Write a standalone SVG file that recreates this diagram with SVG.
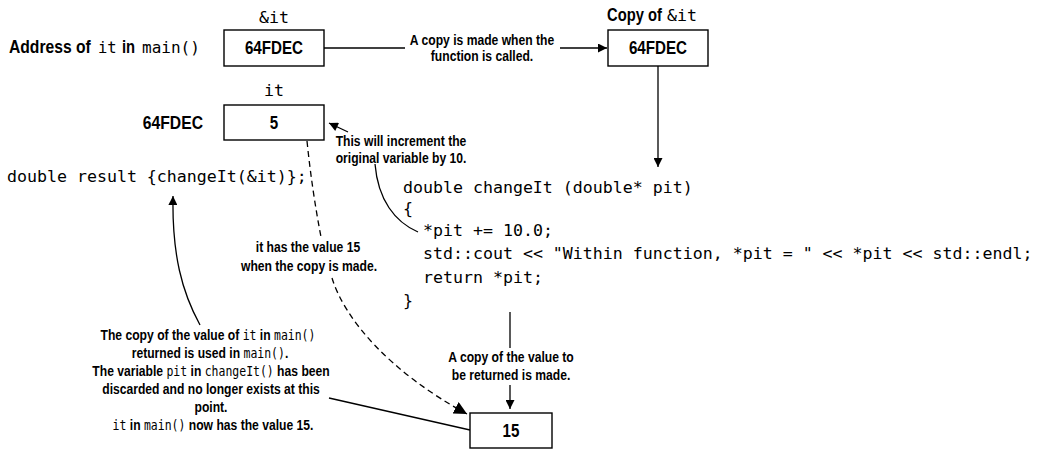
<svg xmlns="http://www.w3.org/2000/svg" width="1040" height="449" viewBox="0 0 1040 449">
<style>
.bg{fill:#fff}
.box{fill:#fff;stroke:#000;stroke-width:1.4}
.sn{font-family:"Liberation Sans",Arial,sans-serif;font-weight:bold;fill:#000}
.bt{font-size:18.5px;text-anchor:middle}
.bte{font-size:18.5px;text-anchor:end}
.lb{font-size:18px}
.an{font-size:14.8px;text-anchor:middle}
.mo{font-family:"DejaVu Sans Mono","Liberation Mono",monospace;font-weight:normal;font-size:14px}
.code{font-family:"DejaVu Sans Mono","Liberation Mono",monospace;font-size:16.6px;fill:#000}
.ln{fill:none;stroke:#000;stroke-width:1.3}
.dash{fill:none;stroke:#000;stroke-width:1.3;stroke-dasharray:6 4}
</style>
<defs>
<marker id="ah" viewBox="0 0 10 10" refX="10" refY="5" markerWidth="11" markerHeight="9" orient="auto" markerUnits="userSpaceOnUse">
<path d="M0,0 L10,5 L0,10 Z" fill="#000"/>
</marker>
<marker id="ahb" viewBox="0 0 10 10" refX="10" refY="5" markerWidth="13" markerHeight="13" orient="auto" markerUnits="userSpaceOnUse">
<path d="M0,0 L10,5 L0,10 Z" fill="#000"/>
</marker>
</defs>
<rect class="bg" x="0" y="0" width="1040" height="449"/>

<g id="connectors">
<path class="ln" d="M324,48 L405,48"/>
<path class="ln" d="M560,48 L607,48" marker-end="url(#ah)"/>
<path class="ln" d="M658,66 L658,167" marker-end="url(#ah)"/>
<path class="ln" d="M348,132 L329,123" marker-end="url(#ah)"/>
<path class="ln" d="M375,164 C378,200 395,222 418,232"/>
<path class="dash" d="M307,141 Q312,190 321,237"/>
<path class="dash" d="M332,278 C345,320 390,372 467,414" marker-end="url(#ahb)"/>
<path class="ln" d="M510,312 L510,348"/>
<path class="ln" d="M510,385 L510,409" marker-end="url(#ah)"/>
<path class="ln" d="M200,325 C182,292 172,255 173,196" marker-end="url(#ah)"/>
<path class="ln" d="M329,398 L470,430"/>
</g>

<g id="node-address">
<text class="sn lb" transform="translate(9,53) scale(0.87,1)">Address of</text>
<text class="code" x="98" y="53" style="font-size:15.5px">it</text>
<text class="sn lb" transform="translate(122,53) scale(0.82,1)">in</text>
<text class="code" x="142" y="53" style="font-size:16px">main()</text>
</g>

<g id="node-addr-box">
<text class="code" x="274" y="22.5" text-anchor="middle">&amp;it</text>
<rect class="box" x="224" y="30" width="100" height="36"/>
<text class="sn bt" transform="translate(274,54) scale(0.82,1)">64FDEC</text>
</g>

<g id="node-copy-box">
<text class="sn lb" transform="translate(607,20.5) scale(0.82,1)">Copy of</text>
<text class="code" x="667" y="20.5">&amp;it</text>
<rect class="box" x="608" y="30" width="100" height="36"/>
<text class="sn bt" transform="translate(658,54) scale(0.82,1)">64FDEC</text>
</g>

<g id="node-copy-note">
<text class="sn an" transform="translate(482,45) scale(0.82,1)">A copy is made when the</text>
<text class="sn an" transform="translate(482,61) scale(0.82,1)">function is called.</text>
</g>

<g id="node-it-box">
<text class="code" x="274" y="96" text-anchor="middle">it</text>
<text class="sn bte" transform="translate(203,129) scale(0.85,1)">64FDEC</text>
<rect class="box" x="224" y="105" width="100" height="35"/>
<text class="sn bt" transform="translate(274,129) scale(0.82,1)">5</text>
</g>

<g id="node-increment-note">
<text class="sn an" transform="translate(401,146) scale(0.82,1)">This will increment the</text>
<text class="sn an" transform="translate(401,163) scale(0.82,1)">original variable by 10.</text>
</g>

<g id="node-call">
<text class="code" x="7" y="182">double result {changeIt(&amp;it)};</text>
</g>

<g id="node-function">
<text class="code" x="403" y="193">double changeIt (double* pit)</text>
<text class="code" x="403" y="214">{</text>
<text class="code" x="423" y="236">*pit += 10.0;</text>
<text class="code" x="423" y="259">std::cout &lt;&lt; "Within function, *pit = " &lt;&lt; *pit &lt;&lt; std::endl;</text>
<text class="code" x="423" y="283">return *pit;</text>
<text class="code" x="403" y="306">}</text>
</g>

<g id="node-value15-note">
<text class="sn an" transform="translate(308,252) scale(0.82,1)">it has the value 15</text>
<text class="sn an" transform="translate(309,271) scale(0.82,1)">when the copy is made.</text>
</g>

<g id="node-return-note">
<text class="sn an" transform="translate(511,362) scale(0.82,1)">A copy of the value to</text>
<text class="sn an" transform="translate(511,380) scale(0.82,1)">be returned is made.</text>
</g>

<g id="node-result-box">
<rect class="box" x="470" y="413" width="82" height="35"/>
<text class="sn bt" transform="translate(511,437) scale(0.82,1)">15</text>
</g>

<g id="node-main-note">
<text class="sn an" transform="translate(208,340) scale(0.82,1)">The copy of the value of <tspan class="mo">it</tspan> in <tspan class="mo">main()</tspan></text>
<text class="sn an" transform="translate(210,358) scale(0.82,1)">returned is used in <tspan class="mo">main()</tspan>.</text>
<text class="sn an" transform="translate(211,376) scale(0.82,1)">The variable <tspan class="mo">pit</tspan> in <tspan class="mo">changeIt()</tspan> has been</text>
<text class="sn an" transform="translate(211,394) scale(0.82,1)">discarded and no longer exists at this</text>
<text class="sn an" transform="translate(211,412) scale(0.82,1)">point.</text>
<text class="sn an" transform="translate(213,430) scale(0.82,1)"><tspan class="mo">it</tspan> in <tspan class="mo">main()</tspan> now has the value 15.</text>
</g>
</svg>
